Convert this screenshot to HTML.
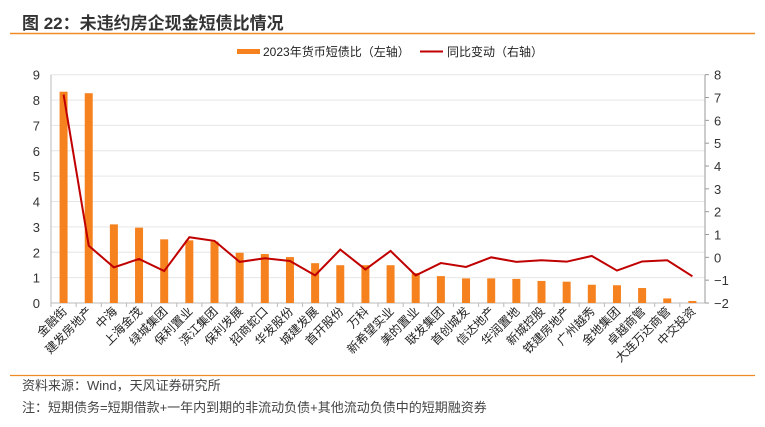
<!DOCTYPE html>
<html><head><meta charset="utf-8"><style>
body{margin:0;background:#fff;width:765px;height:427px;overflow:hidden;font-family:"Liberation Sans","Noto Sans CJK SC",sans-serif}
</style></head><body>
<svg id="c" width="765" height="427" style="position:absolute;left:0;top:0;font-family:'Liberation Sans','Noto Sans CJK SC',sans-serif">
<text x="22" y="29" font-size="17" font-weight="bold" fill="#333">图 22：未违约房企现金短债比情况</text>
<line x1="10" y1="33.5" x2="755" y2="33.5" stroke="#f08a24" stroke-width="1.5"/>
<g>
<rect x="237" y="49" width="23" height="5" fill="#f5821f"/>
<text x="263" y="56" font-size="12" fill="#222">2023年货币短债比（左轴）</text>
<line x1="420" y1="51.5" x2="443" y2="51.5" stroke="#c00000" stroke-width="2"/>
<text x="447" y="56" font-size="12" fill="#222">同比变动（右轴）</text>
</g>
<g id="plot"></g>
<line x1="10" y1="375.5" x2="755" y2="375.5" stroke="#f08a24" stroke-width="1.2"/>
<text x="22" y="390" font-size="13" fill="#444">资料来源：Wind，天风证券研究所</text>
<text x="22" y="412" font-size="13" fill="#444">注：短期债务=短期借款+一年内到期的非流动负债+其他流动负债中的短期融资券</text>
</svg>
<script>
const categories=["金融街","建发房地产","中海","上海金茂","绿城集团","保利置业","滨江集团","保利发展","招商蛇口","华发股份","城建发展","首开股份","万科","新希望实业","美的置业","联发集团","首创城发","信达地产","华润置地","新城控股","铁建房地产","广州越秀","金地集团","卓越商管","大连万达商管","中交投资"];
const ratioValues=[8.33,8.27,3.10,2.97,2.51,2.47,2.42,1.98,1.93,1.81,1.57,1.49,1.49,1.49,1.18,1.06,0.97,0.97,0.95,0.87,0.84,0.72,0.70,0.59,0.18,0.08];
const changeValues=[7.13,0.51,-0.44,-0.07,-0.60,0.88,0.72,-0.20,-0.04,-0.16,-0.79,0.34,-0.53,0.28,-0.79,-0.25,-0.42,0.00,-0.20,-0.13,-0.19,0.06,-0.58,-0.18,-0.13,-0.83];
const leftTicks=[0,1,2,3,4,5,6,7,8,9];
const rightTicks=[-2,-1,0,1,2,3,4,5,6,7,8];
const NS="http://www.w3.org/2000/svg";
const g=document.getElementById('plot');
const X0=51,X1=705,YT=74.7,YB=303;
const band=(X1-X0)/categories.length;
const xc=i=>X0+band*(i+0.5);
const yL=v=>YB-(v-0)/(9-0)*(YB-YT);
const yR=v=>YB-(v+2)/(10)*(YB-YT);
function mk(t,a){const e=document.createElementNS(NS,t);for(const k in a)e.setAttribute(k,a[k]);g.appendChild(e);return e;}
leftTicks.forEach(v=>{
 if(v>0){const l=mk('line',{x1:X0,x2:X1,y1:yL(v),y2:yL(v),stroke:'#e6e6e6','stroke-width':1});
 
 }
 const t=mk('text',{x:40,y:yL(v)+5,'font-size':13,fill:'#333','text-anchor':'end'});t.textContent=v;
 
 
});
rightTicks.forEach(v=>{
 mk('line',{x1:X1,x2:X1+4,y1:yR(v),y2:yR(v),stroke:'#999'});
 const t=mk('text',{x:714,y:yR(v)+5,'font-size':13,fill:'#333'});t.textContent=v<0?'−'+(-v):v;
 
 
});
let ax=mk('line',{x1:X0,x2:X0,y1:YT,y2:YB,stroke:'#bbb'});


ax=mk('line',{x1:X1,x2:X1,y1:YT,y2:YB,stroke:'#999'});


ax=mk('line',{x1:X0,x2:X1,y1:YB,y2:YB,stroke:'#bbb'});


categories.forEach((c,i)=>{
 const xt=X0+band*i;
 mk('line',{x1:xt,x2:xt,y1:YB,y2:YB+4,stroke:'#bbb'});
 const b=mk('rect',{x:xc(i)-4,y:yL(ratioValues[i]),width:8,height:YB-yL(ratioValues[i]),fill:'#f5821f'});
 
 
 const t=mk('text',{x:xc(i)+4,y:312,'font-size':12,fill:'#222','text-anchor':'end',transform:`rotate(-45 ${xc(i)+4} 312)`});
 t.textContent=c;
 
 
});
const p=mk('polyline',{points:changeValues.map((v,i)=>xc(i)+','+yR(v)).join(' '),fill:'none',stroke:'#c00000','stroke-width':2});


</script>
</body></html>
